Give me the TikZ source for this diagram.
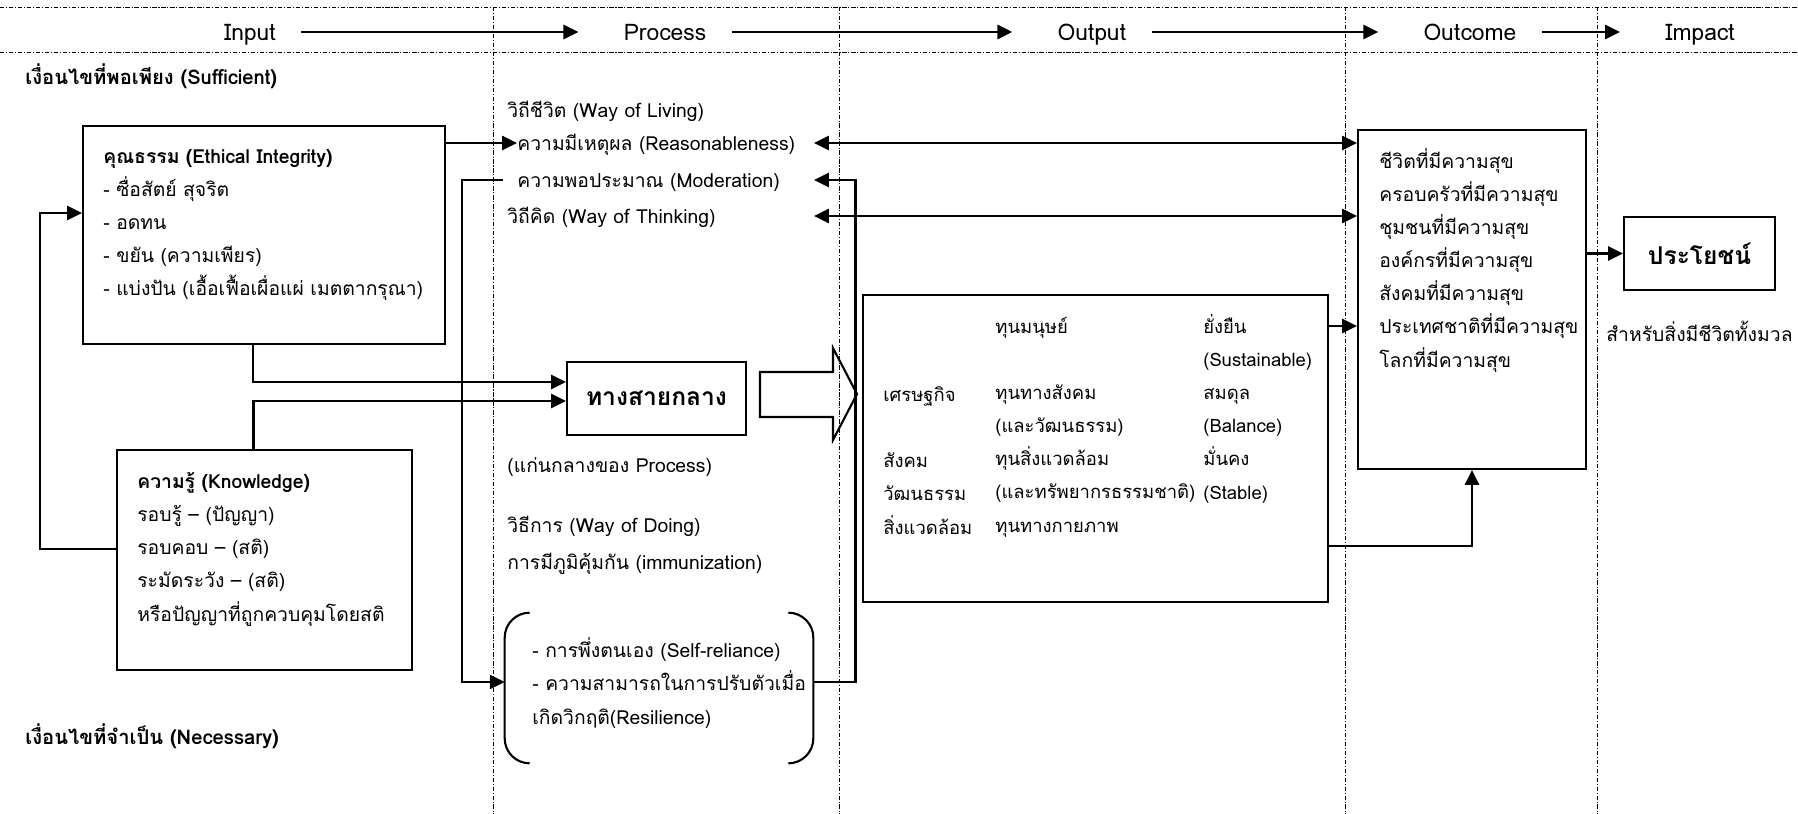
\documentclass[tikz,border=0pt]{standalone}
\usepackage{fontspec}
\setmainfont[Script=Thai]{Loma}
\usetikzlibrary{arrows.meta, positioning}

\begin{document}
\begin{tikzpicture}[x=0.02cm, y=-0.02cm,
    grid/.style={line width=0.5pt, dash pattern=on 2.5pt off 1pt on 0.6pt off 1pt},
    box/.style={draw, line width=1.2pt, inner sep=0pt},
    txt/.style={inner sep=0pt, align=left, font=\fontsize{11}{18.8}\selectfont},
    lbl/.style={txt, text height=12pt, text depth=3pt, anchor=west},
    cell/.style={txt, anchor=base west, font=\fontsize{10.5}{18.8}\selectfont},
    head/.style={inner sep=0pt, text height=12pt, text depth=2.8pt, font=\fontsize{13}{16}\selectfont},
    big/.style={font=\fontsize{14}{16}\selectfont\bfseries},
    arr/.style={line width=1.5pt, -{Triangle[length=8.5pt, width=8pt]}},
    dbl/.style={line width=1.5pt, {Triangle[length=8.5pt, width=8pt]}-{Triangle[length=8.5pt, width=8pt]}},
    harr/.style={arr, shorten <=0.5cm, shorten >=0.9cm}]
\useasboundingbox (0,0) rectangle (1798,814);

% frame of the stages
\draw[grid] (0,7) -- (1798,7);
\draw[grid] (0,52) -- (1798,52);
\foreach \x in {493,839,1345,1597}
  \draw[grid] (\x,7) -- (\x,814);

\node[head] (hin) at (250,32) {Input};
\node[head] (hpr) at (665,32) {Process};
\node[head] (hou) at (1092,32) {Output};
\node[head] (hoc) at (1470,32) {Outcome};
\node[head] (him) at (1700,32) {Impact};
\draw[harr] (hin) -- (hpr);
\draw[harr] (hpr) -- (hou);
\draw[harr] (hou) -- (hoc);
\draw[harr] (hoc) -- (him);

% input (multi-line nodes sit on the baseline of their last line)
\node[lbl, font=\fontsize{11.5}{18.8}\selectfont\bfseries] (suf) at (25,77) {เงื่อนไขที่พอเพียง (Sufficient)};
\node[lbl, font=\fontsize{11.5}{18.8}\selectfont\bfseries] (nec) at (25,737) {เงื่อนไขที่จำเป็น (Necessary)};

\node[box, minimum width=7.24cm, minimum height=4.36cm] (eth) at (264,235) {};
\node[txt, anchor=base west] (ethtxt) at (103,296) {\textbf{คุณธรรม (Ethical Integrity)}\\- ซื่อสัตย์ สุจริต\\- อดทน\\- ขยัน (ความเพียร)\\- แบ่งปัน (เอื้อเฟื้อเผื่อแผ่ เมตตากรุณา)};

\node[box, minimum width=5.9cm, minimum height=4.4cm] (know) at (264.5,560) {};
\node[txt, anchor=base west] (knowtxt) at (137,621) {\textbf{ความรู้ (Knowledge)}\\รอบรู้ – (ปัญญา)\\รอบคอบ – (สติ)\\ระมัดระวัง – (สติ)\\หรือปัญญาที่ถูกควบคุมโดยสติ};

% process
\node[lbl] (wol) at (507,110) {วิถีชีวิต (Way of Living)};
\node[lbl] (reason) at (517,143) {ความมีเหตุผล (Reasonableness)};
\node[lbl] (moder) at (517,180) {ความพอประมาณ (Moderation)};
\node[lbl] (think) at (507,216) {วิถีคิด (Way of Thinking)};
\node[box, big, minimum width=3.58cm, minimum height=1.46cm] (mid) at (656.5,398.5) {ทางสายกลาง};
\node[lbl] (core) at (507,465) {(แก่นกลางของ Process)};
\node[lbl] (wod) at (507,525) {วิธีการ (Way of Doing)};
\node[lbl] (immu) at (507,562) {การมีภูมิคุ้มกัน (immunization)};

\node[minimum width=6.16cm, minimum height=3cm, inner sep=0pt] (res) at (659,688) {};
\node[txt, anchor=base west] (restxt) at (532,724) {- การพึ่งตนเอง (Self-reliance)\\- ความสามารถในการปรับตัวเมื่อ\\เกิดวิกฤติ(Resilience)};
\draw[line width=1.2pt, rounded corners=0.5cm] ([xshift=0.5cm]res.north west) -- (res.north west) -- (res.south west) -- ([xshift=0.5cm]res.south west);
\draw[line width=1.2pt, rounded corners=0.5cm] ([xshift=-0.5cm]res.north east) -- (res.north east) -- (res.south east) -- ([xshift=-0.5cm]res.south east);

\draw[box, line join=miter] (760,372) -- (833,372) -- (833,348) -- (857,394) -- (833,440) -- (833,417) -- (760,417) -- cycle;

% output
\node[box, minimum width=9.3cm, minimum height=6.14cm] (outp) at (1095.5,448.5) {};
\node[cell] (col1) at (883,534) {เศรษฐกิจ\\\mbox{}\\สังคม\\วัฒนธรรม\\สิ่งแวดล้อม};
\node[cell] (col2) at (995,532) {ทุนมนุษย์\\\mbox{}\\ทุนทางสังคม\\(และวัฒนธรรม)\\ทุนสิ่งแวดล้อม\\(และทรัพยากรธรรมชาติ)\\ทุนทางกายภาพ};
\node[cell] (col3) at (1203,499) {ยั่งยืน\\(Sustainable)\\สมดุล\\(Balance)\\มั่นคง\\(Stable)};

% outcome and impact
\node[box, minimum width=4.56cm, minimum height=6.78cm] (outc) at (1472,299.5) {};
\node[txt, anchor=base west] (outctxt) at (1379,367) {ชีวิตที่มีความสุข\\ครอบครัวที่มีความสุข\\ชุมชนที่มีความสุข\\องค์กรที่มีความสุข\\สังคมที่มีความสุข\\ประเทศชาติที่มีความสุข\\โลกที่มีความสุข};
\node[box, big, minimum width=3.02cm, minimum height=1.46cm] (ben) at (1699.5,253.5) {ประโยชน์};
\node[lbl, anchor=north, below=0.58cm of ben] (all) {สำหรับสิ่งมีชีวิตทั้งมวล};

% connectors
\coordinate (rt) at (814,0);
\draw[arr] (eth.east |- reason.west) -- (reason.west);
\draw[arr] ([yshift=0.22cm]know.west) -- ++(-76,0) |- ([yshift=0.44cm]eth.west);
\draw[arr] ([xshift=-0.22cm]eth.south) |- ([yshift=0.33cm]mid.west);
\draw[arr] ([xshift=-0.22cm]know.north) |- ([yshift=-0.05cm]mid.west);
\draw[arr] ([xshift=-0.28cm]moder.west) -- ++(-41,0) |- ([yshift=0.12cm]res.west);
\draw[arr] ([yshift=0.12cm]res.east) -- ++(42,0) |- (moder.east -| rt);
\draw[dbl] (reason -| rt) -- (reason -| outc.west);
\draw[dbl] (think -| rt) -- (think -| outc.west);
\coordinate (o1) at ([yshift=-0.64cm]outp.north east);
\coordinate (o2) at ([yshift=-1.95cm]outp.east);
\draw[arr] (o1) -- (o1 -| outc.west);
\draw[arr] (o2) -| (outc.south);
\draw[arr] (outc.east |- ben.west) -- (ben.west);
\end{tikzpicture}
\end{document}
